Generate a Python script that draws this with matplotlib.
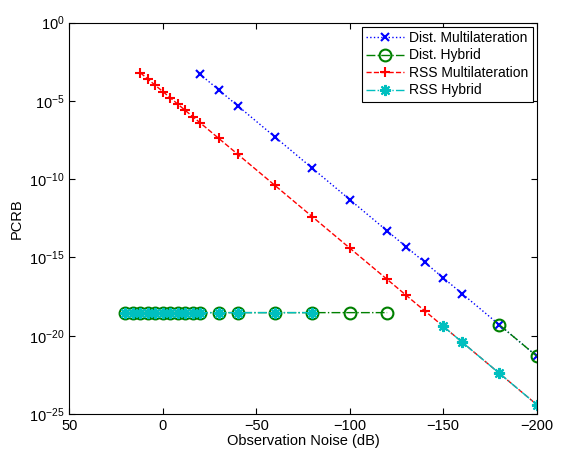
import numpy as np
import matplotlib
matplotlib.use("Agg")
import matplotlib.pyplot as plt

plt.rcParams['font.family'] = 'Liberation Sans'
plt.rcParams['mathtext.fontset'] = 'custom'
plt.rcParams['mathtext.rm'] = 'Liberation Sans'
plt.rcParams['mathtext.it'] = 'Liberation Sans'

nan = np.nan

# observation noise (dB)
noise = [20, 16, 12, 8, 4, 0, -4, -8, -12, -16, -20, -30, -40, -60, -80, -100,
         -120, -130, -140, -150, -160, -180, -200]

dist_multi = [nan, nan, nan, nan, nan, nan, nan, nan, nan, nan, 5.0e-4, 5.0e-5,
              5.0e-6, 5.0e-8, 5.0e-10, 5.0e-12, 5.0e-14, 5.0e-15, 5.0e-16,
              5.0e-17, 5.0e-18, 5.0e-20, 5.0e-22]
dist_hybrid = [3e-19, 3e-19, 3e-19, 3e-19, 3e-19, 3e-19, 3e-19, 3e-19, 3e-19,
               3e-19, 3e-19, 3e-19, 3e-19, 3e-19, 3e-19, 3e-19, 3e-19,
               nan, nan, nan, nan, 5.0e-20, 5.0e-22]
rss_multi = [nan, nan, 6.3e-4, 2.5e-4, 1.0e-4, 4.0e-5, 1.6e-5, 6.3e-6, 2.5e-6,
             1.0e-6, 4.0e-7, 4.0e-8, 4.0e-9, 4.0e-11, 4.0e-13, 4.0e-15, 4.0e-17,
             4.0e-18, 4.0e-19, 4.0e-20, 4.0e-21, 4.0e-23, 4.0e-25]
rss_hybrid = [3e-19, 3e-19, 3e-19, 3e-19, 3e-19, 3e-19, 3e-19, 3e-19, 3e-19,
              3e-19, 3e-19, 3e-19, 3e-19, 3e-19, 3e-19, nan, nan, nan, nan,
              4.0e-20, 4.0e-21, 4.0e-23, 4.0e-25]

fig = plt.figure(figsize=(5.62, 4.51), dpi=100)
ax = fig.add_axes([0.1233, 0.082, 0.8317, 0.8677])

ax.semilogy(noise, dist_multi, ':', color='blue', marker='x', ms=6, mew=1.5,
            lw=1, label='Dist. Multilateration')
ax.semilogy(noise, dist_hybrid, '-.', color='green', marker='o', ms=8.5, mew=1.5,
            mfc='none', lw=1, label='Dist. Hybrid')
ax.semilogy(noise, rss_multi, '--', color='red', marker='+', ms=7.5, mew=1.5,
            lw=1, label='RSS Multilateration')
ax.semilogy(noise, rss_hybrid, '-.', color='c', marker=(8, 2, 0), ms=8, mew=1.5,
            lw=1, label='RSS Hybrid')

ax.set_xlim(50, -200)
ax.set_ylim(1e-25, 1e0)
ax.set_xticks([50, 0, -50, -100, -150, -200])
ax.set_yticks([1e0, 1e-5, 1e-10, 1e-15, 1e-20, 1e-25])
ax.minorticks_off()
ax.tick_params(direction='in', top=True, right=True, length=4, labelsize=10.5)
ax.set_xlabel('Observation Noise (dB)', fontsize=10.5, labelpad=1)
ax.set_ylabel('PCRB', fontsize=10.5)

leg = ax.legend(loc='upper right', fontsize=10, fancybox=False, framealpha=1,
                edgecolor='black', borderpad=0.3, labelspacing=0.25,
                handlelength=2.7, handletextpad=0.4, borderaxespad=0.3)
leg.get_frame().set_linewidth(0.8)

plt.savefig("out.png")
